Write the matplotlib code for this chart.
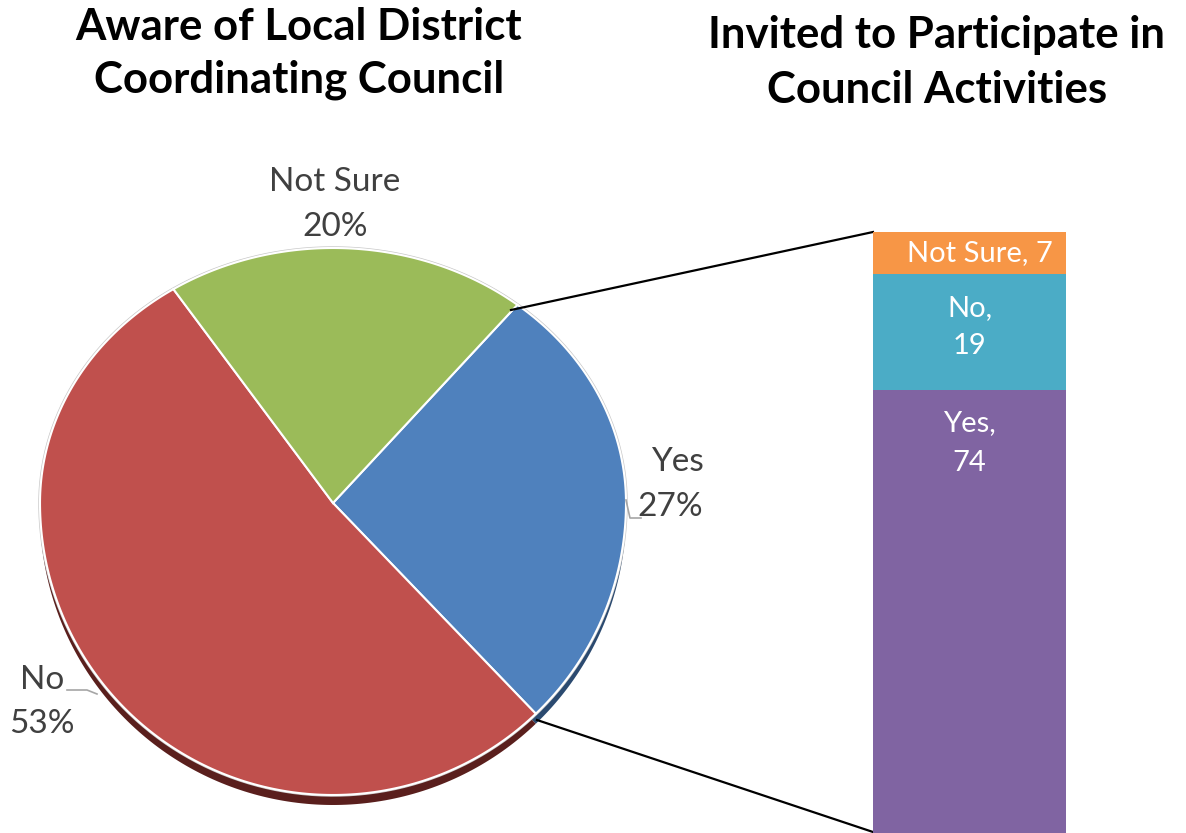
import matplotlib.pyplot as plt
from matplotlib.patches import Polygon
import numpy as np

# pie data
pie_labels = ['Yes', 'No', 'Not Sure']
pie_values = [27, 53, 20]
pie_colors = ['#4F81BD', '#C0504D', '#9BBB59']
shadow_colors = ['#2B4A70', '#5A1F1D', '#55692D']

# stacked bar data (bottom to top)
bar_labels = ['Yes', 'No', 'Not Sure']
bar_values = [74, 19, 7]
bar_colors = ['#8064A2', '#4BACC6', '#F79646']

W, H = 1186, 833
plt.rcParams['font.family'] = ['Lato', 'DejaVu Sans']

fig = plt.figure(figsize=(W / 100, H / 100), dpi=100)
ax = fig.add_axes([0, 0, 1, 1])

# pie centre and radii in pixels (y up); the top half is squashed (3d tilt)
cx, cy = 333, H - 503
rx, ry_top, ry_bot = 293, 255, 292
start = 51


def tilt(theta1, theta2, dy=0):
    # wedge outline mapped onto the tilted pie
    t = np.radians(np.linspace(theta1, theta2, 200))
    s = np.sin(t)
    xs = cx + rx * np.cos(t)
    ys = cy + np.where(s > 0, ry_top, ry_bot) * s
    xs = np.concatenate([[cx], xs])
    ys = np.concatenate([[cy], ys]) + dy
    return np.column_stack([xs, ys])


wedges, _ = ax.pie(pie_values, colors=pie_colors, startangle=start,
                   counterclock=False, frame=True)
angles = [(w.theta1, w.theta2) for w in wedges]
for w in wedges:
    w.remove()

# shadow + outline, then the faces
for (t1, t2), col in zip(angles, shadow_colors):
    ax.add_patch(Polygon(tilt(t1, t2, dy=-10), closed=True, facecolor=col,
                         edgecolor='none'))
ax.add_patch(Polygon(tilt(0, 360)[1:], closed=True, facecolor='none',
                     edgecolor='#C8C8C8', lw=2.5))
for (t1, t2), col in zip(angles, pie_colors):
    ax.add_patch(Polygon(tilt(t1, t2), closed=True, facecolor=col,
                         edgecolor='white', lw=1.5))

ax.set_xlim(0, W)
ax.set_ylim(0, H)
ax.set_aspect('equal')
ax.axis('off')

# pie labels
lab_col = '#404040'
fs = 24
ax.text(335, H - 182, 'Not Sure', ha='center', va='center', fontsize=fs, color=lab_col)
ax.text(335, H - 227, '20%', ha='center', va='center', fontsize=fs, color=lab_col)
ax.text(677, H - 462, 'Yes', ha='center', va='center', fontsize=fs, color=lab_col)
ax.text(670, H - 507, '27%', ha='center', va='center', fontsize=fs, color=lab_col)
ax.text(42, H - 680, 'No', ha='center', va='center', fontsize=fs, color=lab_col)
ax.text(42, H - 724, '53%', ha='center', va='center', fontsize=fs, color=lab_col)

# leader lines
ax.plot([626, 630, 641], [H - 500, H - 518, H - 518], color='#A6A6A6', lw=1.2)
ax.plot([67, 87, 97], [H - 690, H - 690, H - 694], color='#A6A6A6', lw=1.2)

# connector lines from pie to bar
ax.plot([511, 873], [H - 310, H - 232], color='black', lw=1.6)
ax.plot([537, 873], [H - 720, H - 832], color='black', lw=1.6)

# titles
tfs = 31.5
ax.text(299, H - 27, 'Aware of Local District', ha='center', va='center',
        fontsize=tfs, fontweight='bold', color='black')
ax.text(299, H - 80, 'Coordinating Council', ha='center', va='center',
        fontsize=tfs, fontweight='bold', color='black')
ax.text(937, H - 35, 'Invited to Participate in', ha='center', va='center',
        fontsize=tfs, fontweight='bold', color='black')
ax.text(937, H - 90, 'Council Activities', ha='center', va='center',
        fontsize=tfs, fontweight='bold', color='black')

# stacked bar in its own axes
bx = fig.add_axes([873 / W, (H - 838) / H, 193 / W, 606 / H])
bfs = 21
bottom = 0
for lab, val, col in zip(bar_labels, bar_values, bar_colors):
    bx.bar(0, val, bottom=bottom, width=1, color=col, edgecolor='none')
    mid = bottom + val / 2
    top = bottom + val
    if lab == 'Not Sure':
        bx.text(0.055, mid, lab + ', ' + str(val), ha='center', va='center',
                fontsize=bfs, color='white')
    elif lab == 'No':
        bx.text(0, mid + 4.0, lab + ',', ha='center', va='center',
                fontsize=bfs, color='white')
        bx.text(0, mid - 2.3, str(val), ha='center', va='center',
                fontsize=bfs, color='white')
    else:
        bx.text(0, top - 5.5, lab + ',', ha='center', va='center',
                fontsize=bfs, color='white')
        bx.text(0, top - 12.1, str(val), ha='center', va='center',
                fontsize=bfs, color='white')
    bottom += val
bx.set_xlim(-0.5, 0.5)
bx.set_ylim(0, 100)
bx.axis('off')

fig.savefig('out.png', dpi=100)
